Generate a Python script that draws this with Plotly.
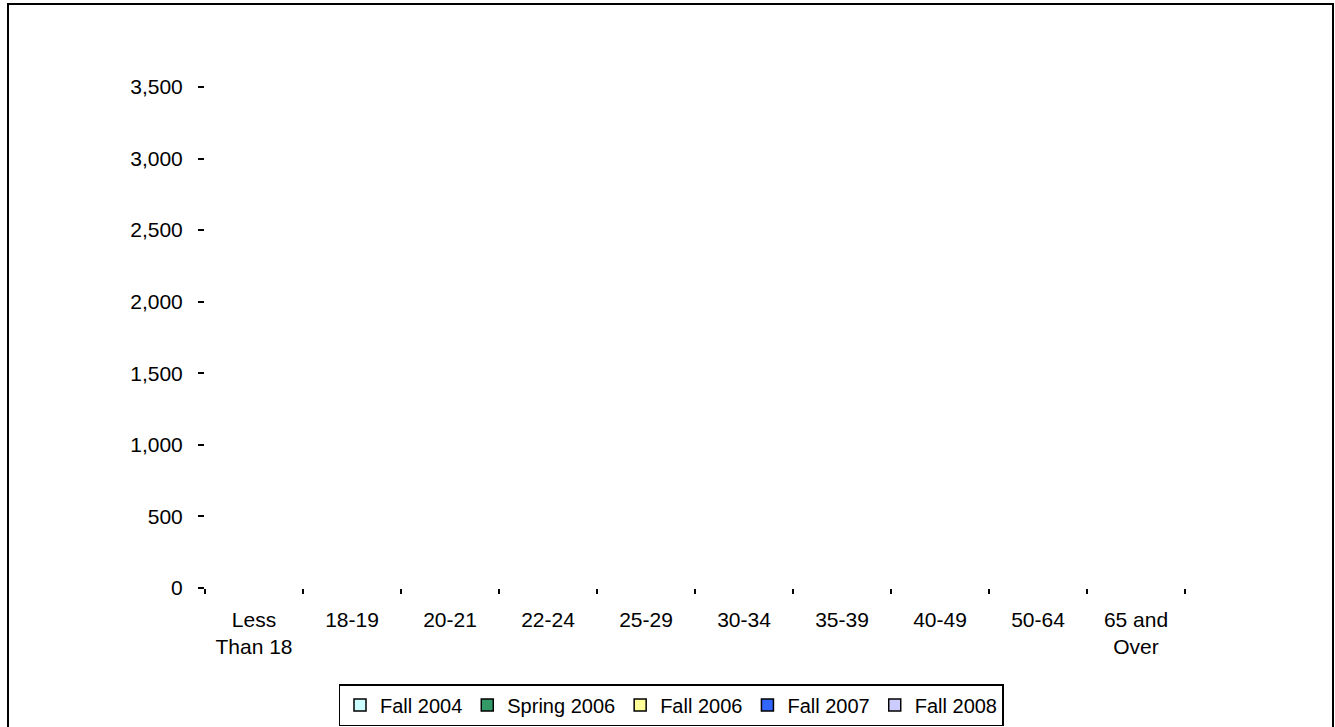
import plotly.graph_objects as go

categories = ["Less<br>Than 18", "18-19", "20-21", "22-24", "25-29", "30-34",
              "35-39", "40-49", "50-64", "65 and<br>Over"]
# No bars are visible in the reference: values are blank for every series
fall_2004 = [None] * 10
spring_2006 = [None] * 10
fall_2006 = [None] * 10
fall_2007 = [None] * 10
fall_2008 = [None] * 10

series = [
    ("Fall 2004", fall_2004, "#CCFFFF"),
    ("Spring 2006", spring_2006, "#339966"),
    ("Fall 2006", fall_2006, "#FFFF99"),
    ("Fall 2007", fall_2007, "#3366FF"),
    ("Fall 2008", fall_2008, "#CCCCFF"),
]

FONT = "Arial, Liberation Sans, sans-serif"

fig = go.Figure()
for name, vals, color in series:
    fig.add_trace(go.Bar(x=categories, y=vals, name=name,
                         marker=dict(color=color, line=dict(color="black", width=1.5))))

W, H = 1335, 727
L, R, T, B = 205, 150, 87, 139
pw, ph = W - L - R, H - T - B

def px_x(p):
    return (p - L) / pw

def px_y(p):
    return (H - B - p) / ph

fig.add_shape(type="rect", xref="paper", yref="paper",
              x0=px_x(8), x1=px_x(1333), y0=px_y(735), y1=px_y(4),
              line=dict(color="black", width=2), layer="below")

fig.update_layout(
    width=W, height=H,
    margin=dict(l=L, r=R, t=T, b=B, pad=0, autoexpand=False),
    paper_bgcolor="white", plot_bgcolor="white",
    font=dict(family=FONT, size=21, color="black"),
    barmode="group",
    showlegend=True,
    legend=dict(orientation="h", xref="container", yref="container",
                x=671 / W, xanchor="center",
                y=1 - 684 / H, yanchor="top",
                bordercolor="black", borderwidth=1.5,
                font=dict(family=FONT, size=20, color="black"),
                itemwidth=30, traceorder="normal"),
    xaxis=dict(showline=False, showgrid=False, zeroline=False,
               ticks="outside", ticklen=5, tickwidth=2, tickcolor="black",
               tickson="boundaries", tickangle=0,
               ticklabelstandoff=17,
               range=[-0.5, 9.5]),
    yaxis=dict(showline=False, showgrid=False, zeroline=False,
               range=[0, 3500], dtick=500, tick0=0,
               tickformat=",d",
               ticks="outside", ticklen=6, tickwidth=2, tickcolor="black",
               ticklabelstandoff=11),
)

fig.write_html("out.html", config={"displayModeBar": False},
               post_script="document.body.style.margin='0';")
